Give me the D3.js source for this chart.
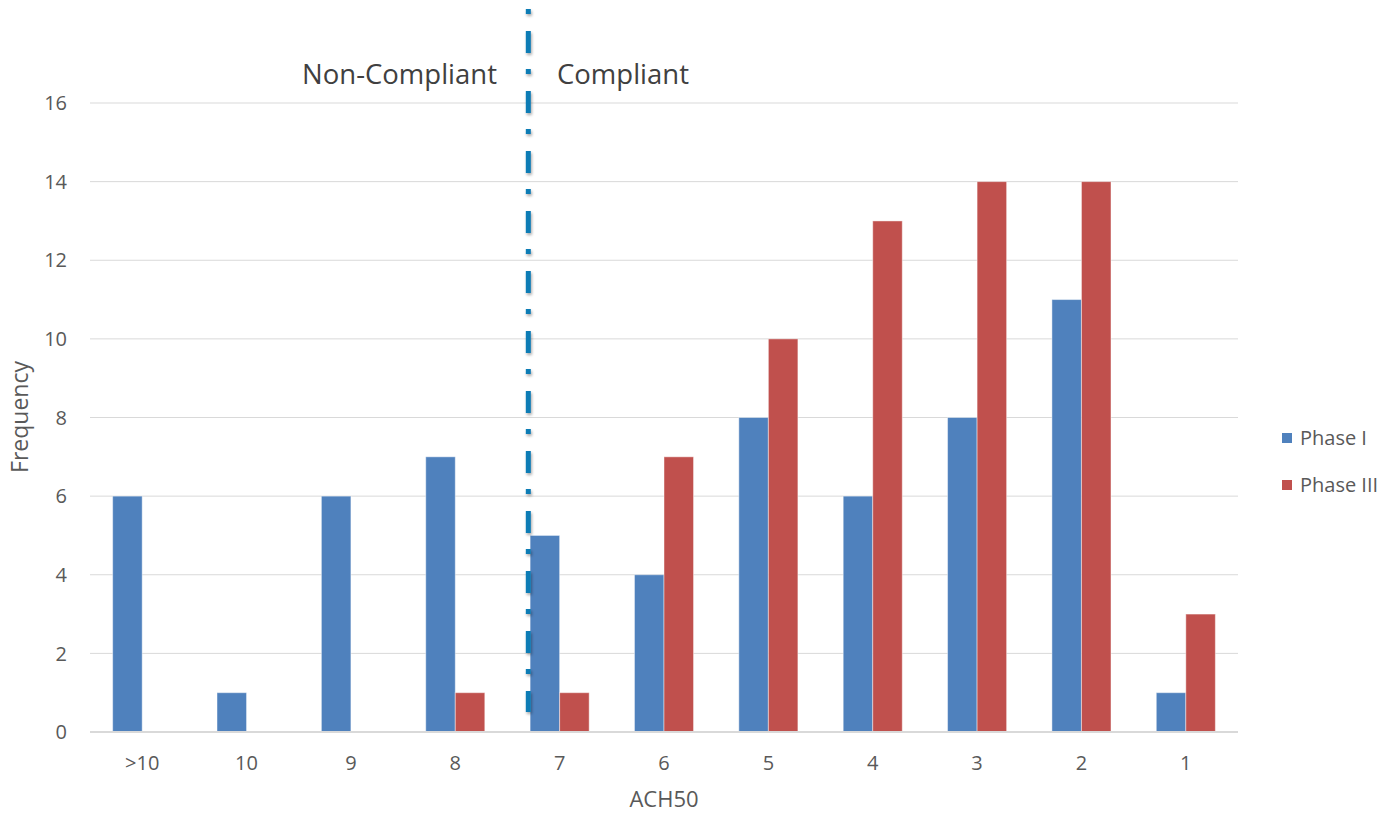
<!DOCTYPE html>
<html><head><meta charset="utf-8">
<script src="https://cdn.jsdelivr.net/npm/d3@7"></script>
<style>
html,body{margin:0;padding:0;background:#fff;}
svg text{font-family:"Open Sans","Liberation Sans",sans-serif;}
</style></head>
<body><svg id="c" width="1396" height="815"></svg>
<script>
const categories = [">10","10","9","8","7","6","5","4","3","2","1"];
const phase1 = [6,1,6,7,5,4,8,6,8,11,1];
const phase3 = [0,0,0,1,1,7,10,13,14,14,3];
const seriesNames = ["Phase I","Phase III"];
const seriesColors = ["#4F81BD","#C0504D"];
const yTicks = [0,2,4,6,8,10,12,14,16];
const thresholdBand = 4.2; // position of compliance line in category units

const svg = d3.select("#c");
const L = 90, R = 1238, T = 103, B = 732;
const x = d3.scaleBand().domain(categories).range([L,R]).padding(0);
const xLin = d3.scaleLinear().domain([0,categories.length]).range([L,R]);
const y = d3.scaleLinear().domain([0,16]).range([B,T]);
const barW = x.bandwidth()*0.283;

// gridlines
svg.append("g").selectAll("line").data(yTicks.filter(d=>d>0)).join("line")
  .attr("x1",L).attr("x2",R).attr("y1",d=>y(d)).attr("y2",d=>y(d))
  .attr("stroke","#d9d9d9").attr("stroke-width",1);

// y tick labels
svg.append("g").selectAll("text").data(yTicks).join("text")
  .attr("x",67).attr("y",d=>y(d)).attr("dy","0.36em").attr("text-anchor","end")
  .attr("font-size",20).attr("fill","#595959").text(d=>d);

// bars
const series = [phase1, phase3];
series.forEach((vals,si)=>{
  svg.append("g").selectAll("rect").data(vals).join("rect")
    .attr("x",(d,i)=>x(categories[i])+x.bandwidth()/2 - barW + si*barW)
    .attr("y",d=>y(d)).attr("width",barW).attr("height",d=>y(0)-y(d))
    .attr("fill",seriesColors[si])
    .attr("stroke","rgba(255,255,255,0.45)").attr("stroke-width",1);
});

// x axis line
svg.append("line").attr("x1",L).attr("x2",R).attr("y1",B).attr("y2",B)
  .attr("stroke","#d9d9d9").attr("stroke-width",2);

// x labels
svg.append("g").selectAll("text").data(categories).join("text")
  .attr("x",d=>x(d)+x.bandwidth()/2).attr("y",770).attr("text-anchor","middle")
  .attr("font-size",20).attr("fill","#595959").text(d=>d);

// axis titles
svg.append("text").attr("x",664).attr("y",807).attr("text-anchor","middle")
  .attr("font-size",22).attr("fill","#595959").text("ACH50");
svg.append("text").attr("transform","translate(28,417) rotate(-90)")
  .attr("text-anchor","middle").attr("font-size",23).attr("fill","#595959").text("Frequency");

// compliance line
const lx = xLin(thresholdBand);
const defs = svg.append("defs");
const f = defs.append("filter").attr("id","sh").attr("filterUnits","userSpaceOnUse")
  .attr("x",lx-20).attr("y",0).attr("width",40).attr("height",740);
f.append("feGaussianBlur").attr("in","SourceAlpha").attr("stdDeviation",1.5).attr("result","b");
f.append("feOffset").attr("in","b").attr("dx",1).attr("dy",1.5).attr("result","o");
f.append("feComponentTransfer").attr("in","o").attr("result","o2")
  .append("feFuncA").attr("type","linear").attr("slope",0.35);
const fm = f.append("feMerge");
fm.append("feMergeNode").attr("in","o2");
fm.append("feMergeNode").attr("in","SourceGraphic");
svg.append("line").attr("x1",lx).attr("x2",lx).attr("y1",9).attr("y2",712)
  .attr("stroke","#0E7BB5").attr("stroke-width",5)
  .attr("stroke-dasharray","5,17,22,16").attr("filter","url(#sh)");

// annotations
svg.append("text").attr("x",497).attr("y",84).attr("text-anchor","end")
  .attr("font-size",27.5).attr("fill","#404040").text("Non-Compliant");
svg.append("text").attr("x",557).attr("y",84).attr("text-anchor","start")
  .attr("font-size",27.5).attr("fill","#404040").text("Compliant");

// legend
seriesNames.forEach((n,i)=>{
  const ly = 438 + i*47;
  svg.append("rect").attr("x",1282).attr("y",ly-5).attr("width",10).attr("height",10)
    .attr("fill",seriesColors[i]);
  svg.append("text").attr("x",1300).attr("y",ly).attr("dy","0.36em")
    .attr("font-size",20).attr("fill","#595959").text(n);
});
</script></body></html>
